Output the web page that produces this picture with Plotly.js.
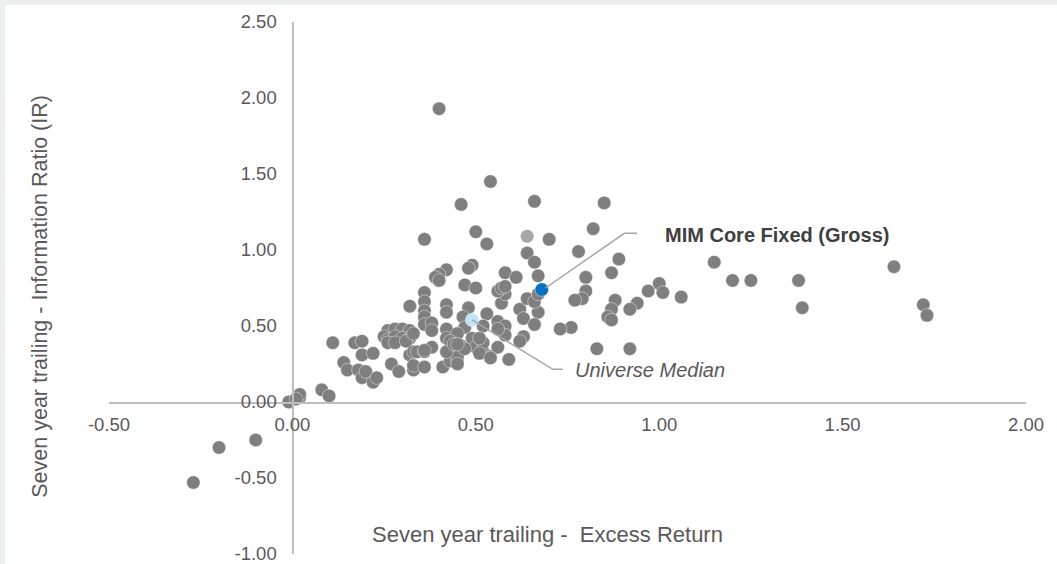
<!DOCTYPE html>
<html><head><meta charset="utf-8">
<script src="https://cdn.plot.ly/plotly-3.0.1.min.js"></script>
<style>
html,body{margin:0;padding:0;background:#eeefef;width:1057px;height:564px;overflow:hidden}
#chart{position:absolute;left:5px;top:5px;width:1052px;height:559px;background:#fff}
</style>
</head><body><div id="chart"></div>
<script>
// Universe of managers: seven-year excess return (x) vs information ratio (y)
const universeX = [
 -0.27,-0.20,-0.10,-0.01,0.02,0.02,0.01,0.08,0.10,
 0.11,0.17,0.19,0.14,0.15,0.18,0.19,0.20,0.22,0.23,0.19,0.22,
 0.26,0.28,0.30,0.32,0.25,0.26,0.28,0.30,0.32,0.26,0.28,0.31,0.33,0.32,0.33,0.27,0.29,0.33,0.32,
 0.36,0.36,0.36,0.36,0.42,0.42,0.48,0.465,0.47,0.53,0.52,0.62,0.63,0.67,0.66,0.56,0.58,0.58,0.63,0.62,
 0.36,0.38,0.38,0.42,0.42,0.45,0.43,0.46,0.49,0.50,0.52,0.54,0.59,0.34,0.36,0.38,0.33,0.36,0.41,0.43,
 0.45,0.45,0.45,0.42,0.44,0.52,0.51,0.57,0.58,0.56,0.57,0.58,0.64,0.66,0.67,0.47,0.50,0.42,0.40,0.39,
 0.40,0.49,0.48,0.58,0.61,0.67,0.64,0.66,
 0.40,0.54,0.46,0.66,0.85,0.36,0.50,0.53,0.70,0.82,0.78,0.89,0.87,
 0.80,0.80,0.79,0.77,0.97,1.00,1.01,1.06,0.94,0.92,0.88,0.87,0.86,0.87,0.76,0.73,0.83,0.92,
 1.15,1.20,1.25,1.38,1.39,1.64,1.72,1.73,
 0.56,0.56,0.47,0.54,0.45,0.51,0.36
];
const universeY = [
 -0.53,-0.30,-0.25,0.00,0.03,0.05,0.02,0.08,0.04,
 0.39,0.39,0.40,0.26,0.21,0.21,0.16,0.20,0.13,0.16,0.31,0.32,
 0.47,0.48,0.48,0.47,0.43,0.41,0.43,0.42,0.42,0.39,0.39,0.40,0.45,0.31,0.33,0.25,0.20,0.21,0.63,
 0.72,0.66,0.60,0.56,0.64,0.59,0.62,0.56,0.49,0.58,0.50,0.61,0.55,0.59,0.51,0.53,0.50,0.44,0.43,0.40,
 0.51,0.52,0.47,0.48,0.42,0.45,0.40,0.37,0.42,0.36,0.33,0.30,0.28,0.33,0.33,0.36,0.24,0.23,0.23,0.27,
 0.27,0.30,0.25,0.33,0.38,0.39,0.32,0.65,0.71,0.73,0.75,0.76,0.68,0.66,0.71,0.77,0.75,0.87,0.84,0.82,
 0.80,0.90,0.88,0.85,0.82,0.83,0.98,0.92,
 1.93,1.45,1.30,1.32,1.31,1.07,1.12,1.04,1.07,1.14,0.99,0.94,0.85,
 0.82,0.73,0.68,0.67,0.73,0.78,0.72,0.69,0.65,0.61,0.67,0.61,0.56,0.54,0.49,0.48,0.35,0.35,
 0.92,0.80,0.80,0.80,0.62,0.89,0.64,0.57,
 0.48,0.36,0.35,0.29,0.38,0.42,0.34
];
// Highlighted points
const otherX = [0.64], otherY = [1.09];
const medianX = [0.49], medianY = [0.54];
const mimX = [0.68], mimY = [0.74];

// Label text and leader line routes
const mimLabel = "MIM Core Fixed (Gross)";
const medianLabel = "Universe Median";
const mimLeaderX = [0.69, 0.905, 0.94], mimLeaderY = [0.75, 1.11, 1.11];
const medLeaderX = [0.49, 0.71, 0.737], medLeaderY = [0.54, 0.215, 0.215];

const xTickVals = [-0.5, 0, 0.5, 1.0, 1.5, 2.0];
const xTickText = ["-0.50","0.00","0.50","1.00","1.50","2.00"];
const yTickVals = [-1.0, -0.5, 0, 0.5, 1.0, 1.5, 2.0, 2.5];
const yTickText = ["-1.00","-0.50","0.00","0.50","1.00","1.50","2.00","2.50"];
const xTitle = "Seven year trailing -  Excess Return";
const yTitle = "Seven year trailing - Information Ratio (IR)";

const mk = (c) => ({size: 13.5, color: c, line: {color: 'rgba(255,255,255,0.7)', width: 0.6}});
const traces = [
  {type:'scatter', mode:'markers', x: otherX, y: otherY, marker: mk('#a6a6a6'), hoverinfo:'skip'},
  {type:'scatter', mode:'markers', x: universeX, y: universeY, marker: mk('#7f7f7f'), hoverinfo:'skip'},
  {type:'scatter', mode:'markers', x: medianX, y: medianY, marker: mk('#bfe4f8'), hoverinfo:'skip'},
  {type:'scatter', mode:'markers', x: mimX, y: mimY, marker: mk('#0a70bf'), hoverinfo:'skip'}
];

const pathOf = (xs, ys) => xs.map((v, i) => (i ? 'L' : 'M') + v + ',' + ys[i]).join(' ');
const font = "Liberation Sans, Arial, sans-serif";
const tickFont = {family: font, size: 18.5, color: '#595959'};

const layout = {
  width: 1052, height: 559,
  margin: {l: 104, r: 31, t: 17, b: 10, pad: 0},
  paper_bgcolor: '#ffffff', plot_bgcolor: '#ffffff',
  showlegend: false,
  xaxis: {range: [-0.5, 2.0], anchor: 'free', position: 1/3.5,
    showline: true, linecolor: '#bfbfbf', linewidth: 1.5, showgrid: false, zeroline: false,
    ticks: 'outside', ticklen: 5, tickcolor: 'rgba(0,0,0,0)', ticklabeloverflow: 'allow',
    tickvals: xTickVals, ticktext: xTickText, tickfont: tickFont, fixedrange: true},
  yaxis: {range: [-1.0, 2.5], anchor: 'free', position: 0.2,
    showline: true, linecolor: '#bfbfbf', linewidth: 1.5, showgrid: false, zeroline: false,
    ticks: 'outside', ticklen: 12, tickcolor: 'rgba(0,0,0,0)', ticklabeloverflow: 'allow',
    tickvals: yTickVals, ticktext: yTickText, tickfont: tickFont, fixedrange: true},
  shapes: [
    {type:'path', xref:'x', yref:'y', path: pathOf(mimLeaderX, mimLeaderY), line:{color:'#a6a6a6', width:1.5}, layer:'above'},
    {type:'path', xref:'x', yref:'y', path: pathOf(medLeaderX, medLeaderY), line:{color:'#a6a6a6', width:1.5}, layer:'above'}
  ],
  annotations: [
    {xref:'paper', yref:'paper', x: 0.478, y: 0.037, text: xTitle, showarrow:false,
     xanchor:'center', yanchor:'middle', font:{family: font, size: 22, color:'#595959'}},
    {xref:'paper', yref:'paper', x: -0.0755, y: 0.485, text: yTitle, showarrow:false, textangle:-90,
     xanchor:'center', yanchor:'middle', font:{family: font, size: 21.5, color:'#595959'}},
    {xref:'x', yref:'y', x: 1.01, y: 1.10, text: '<b>' + mimLabel + '</b>', showarrow:false,
     xanchor:'left', yanchor:'middle', font:{family: font, size: 20, color:'#404040'}},
    {xref:'x', yref:'y', x: 0.764, y: 0.209, text: '<i>' + medianLabel + '</i>', showarrow:false,
     xanchor:'left', yanchor:'middle', font:{family: font, size: 20, color:'#595959'}}
  ]
};
Plotly.newPlot('chart', traces, layout, {staticPlot: true, displayModeBar: false});
</script></body></html>
